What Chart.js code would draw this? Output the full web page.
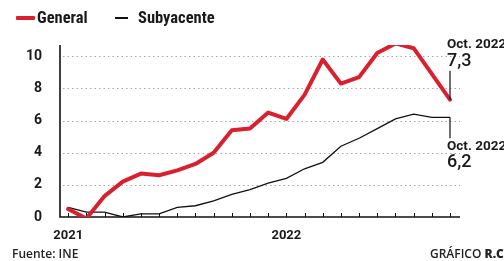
<!DOCTYPE html>
<html><head><meta charset="utf-8">
<script src="https://cdn.jsdelivr.net/npm/chart.js@4/dist/chart.umd.min.js"></script>
<style>
html,body{margin:0;padding:0;background:#fff;width:504px;height:261px;overflow:hidden;font-family:Roboto,"Open Sans",sans-serif;}
#wrap{position:relative;width:504px;height:261px;}
canvas{position:absolute;left:0;top:0;}
.leg{position:absolute;top:8px;font-family:"Liberation Sans Narrow","Roboto Condensed",Roboto,sans-serif;font-size:16.5px;font-weight:bold;color:#1a1a1a;white-space:nowrap;line-height:19px;}
.sw{position:absolute;}
.foot{position:absolute;top:245px;font-family:"Open Sans",sans-serif;font-size:12px;font-weight:600;color:#222;white-space:nowrap;}
</style></head>
<body><div id="wrap">
<canvas id="c" width="504" height="261"></canvas>
<div class="sw" style="left:16px;top:16px;width:19px;height:4px;background:#d9202f;border-radius:1px"></div>
<div class="leg" style="left:37px">General</div>
<div class="sw" style="left:115px;top:17px;width:13px;height:1.5px;background:#111"></div>
<div class="leg" style="left:138px">Subyacente</div>
<div class="foot" style="left:12px">Fuente: INE</div>
<div class="foot" style="left:430px">GRÁFICO <b style="font-weight:800">R.C</b></div>
</div>
<script>
const months = ['ene 2021','feb 2021','mar 2021','abr 2021','may 2021','jun 2021','jul 2021','ago 2021','sep 2021','oct 2021','nov 2021','dic 2021',
 'ene 2022','feb 2022','mar 2022','abr 2022','may 2022','jun 2022','jul 2022','ago 2022','sep 2022','oct 2022'];
const general = [0.5,-0.1,1.3,2.2,2.7,2.6,2.9,3.3,4.0,5.4,5.5,6.5,6.1,7.6,9.8,8.3,8.7,10.2,10.8,10.5,8.9,7.3];
const subyacente = [0.6,0.3,0.3,0.0,0.2,0.2,0.6,0.7,1.0,1.4,1.7,2.1,2.4,3.0,3.4,4.4,4.9,5.5,6.1,6.4,6.2,6.2];
const yTicks = [0,2,4,6,8,10];
const yearLabels = {0:'2021',12:'2022'};
const lastLabel = 'Oct. 2022';
const fmt = v => v.toFixed(1).replace('.',',');

const overlay = {
  id:'overlay',
  beforeDatasetsDraw(chart){
    const ctx=chart.ctx, x=chart.scales.x, y=chart.scales.y, a=chart.chartArea;
    ctx.save();
    ctx.strokeStyle='#a8a8a8'; ctx.lineWidth=1; ctx.setLineDash([1.5,3]);
    yTicks.forEach(t=>{ if(t===0) return; const py=Math.round(y.getPixelForValue(t))+0.5;
      ctx.beginPath(); ctx.moveTo(a.left+3,py); ctx.lineTo(a.right,py); ctx.stroke(); });
    ctx.setLineDash([]);
    ctx.strokeStyle='#111'; ctx.lineWidth=1.6;
    const y0=y.getPixelForValue(0);
    ctx.beginPath(); ctx.moveTo(a.left,a.top); ctx.lineTo(a.left,y0); ctx.lineTo(a.right,y0); ctx.stroke();
    ctx.lineWidth=1;
    for(let i=0;i<months.length;i++){ const px=Math.round(x.getPixelForValue(i))+0.5;
      ctx.beginPath(); ctx.moveTo(px,y0); ctx.lineTo(px,y0-4); ctx.stroke(); }
    ctx.restore();
  },
  afterDatasetsDraw(chart){
    const ctx=chart.ctx, x=chart.scales.x, y=chart.scales.y;
    const n=months.length-1, px=x.getPixelForValue(n);
    const pg=y.getPixelForValue(general[n]), ps=y.getPixelForValue(subyacente[n]);
    ctx.save();
    ctx.strokeStyle='#111'; ctx.lineWidth=1.2;
    ctx.beginPath(); ctx.moveTo(px,pg); ctx.lineTo(px,pg-29); ctx.stroke();
    ctx.beginPath(); ctx.moveTo(px,ps); ctx.lineTo(px,ps+21); ctx.stroke();
    ctx.fillStyle='#1a1a1a'; ctx.textAlign='left'; ctx.textBaseline='alphabetic';
    ctx.font='bold 13.5px "Liberation Sans Narrow", Roboto';
    ctx.fillText(lastLabel, px-3, 48);
    ctx.font='500 18px Roboto';
    ctx.fillText(fmt(general[n]), px-3, 66);
    ctx.font='bold 13.5px "Liberation Sans Narrow", Roboto';
    ctx.fillText(lastLabel, px-3, 150);
    ctx.font='500 18px Roboto';
    ctx.fillText(fmt(subyacente[n]), px-3, 167);
    ctx.restore();
  }
};

new Chart(document.getElementById('c'),{
  type:'line',
  data:{datasets:[
    {label:'General',data:general.map((v,i)=>({x:i,y:v})),borderColor:'#d9202f',borderWidth:4,pointRadius:0,tension:0,borderJoinStyle:'round',borderCapStyle:'round'},
    {label:'Subyacente',data:subyacente.map((v,i)=>({x:i,y:v})),borderColor:'#111',borderWidth:1.3,pointRadius:0,tension:0}
  ]},
  options:{
    responsive:false,animation:false,devicePixelRatio:1,
    layout:{padding:{top:45,right:44,left:0,bottom:0}},
    plugins:{legend:{display:false},tooltip:{enabled:false}},
    scales:{
      x:{type:'linear',min:-0.45,max:21.55,
        afterFit(s){s.height=44;},
        afterBuildTicks(s){s.ticks=months.map((m,i)=>({value:i}));},
        grid:{display:false},border:{display:false},
        ticks:{autoSkip:false,maxRotation:0,padding:3,color:'#1a1a1a',font:{family:'Roboto',size:13,weight:'bold'},
          callback:(v)=>yearLabels[v]||''}},
      y:{min:0,max:10.7,
        afterFit(s){s.width=60;},
        afterBuildTicks(s){s.ticks=yTicks.map(v=>({value:v}));},
        grid:{display:false},border:{display:false},
        ticks:{padding:10,color:'#1a1a1a',font:{family:'Roboto',size:14,weight:'bold'}}}
    }
  },
  plugins:[overlay]
});
</script></body></html>
